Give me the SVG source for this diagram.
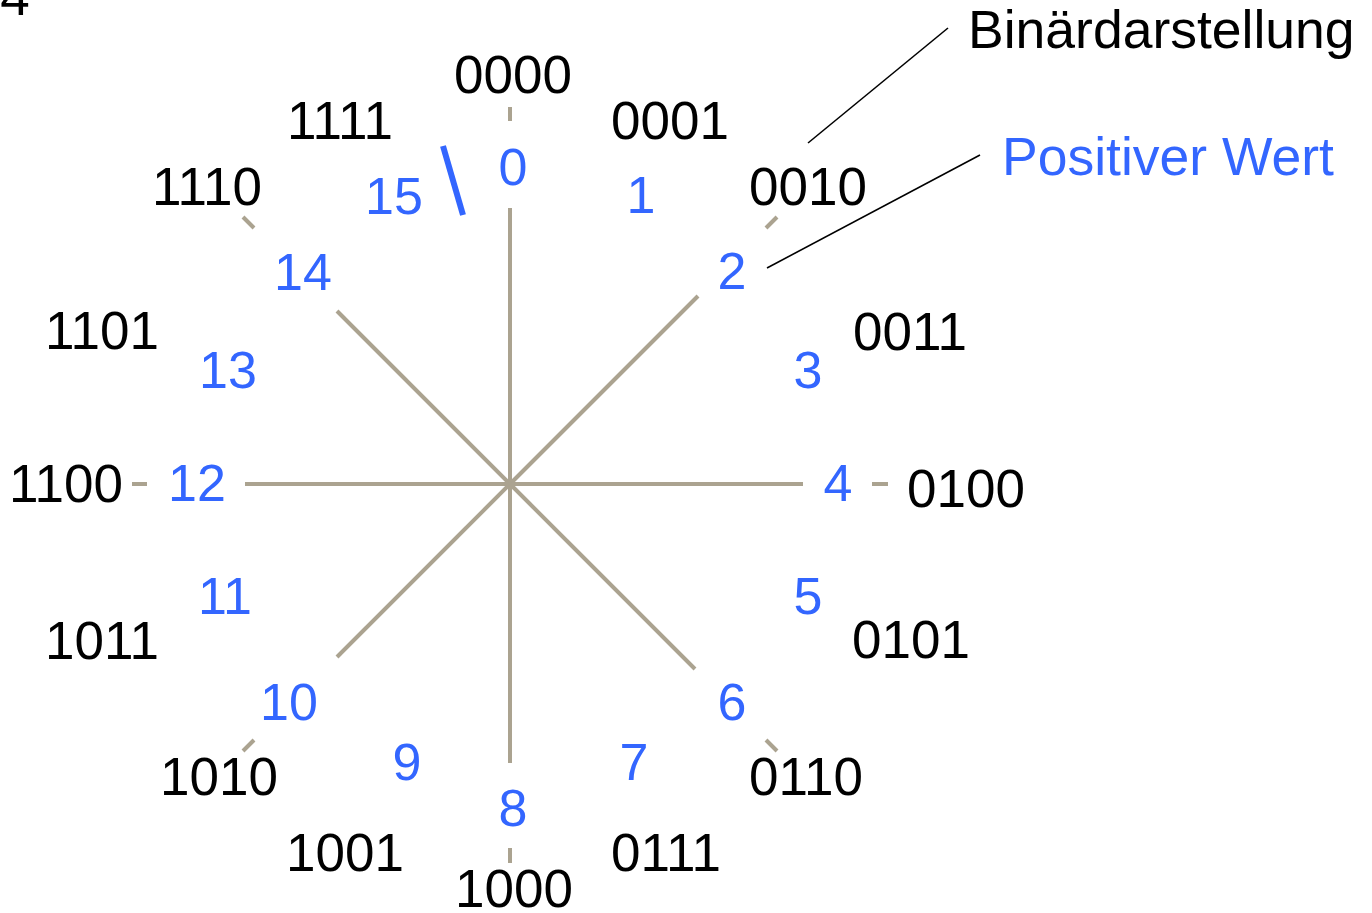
<svg xmlns="http://www.w3.org/2000/svg" width="1372" height="913" viewBox="0 0 1372 913">
<style>
.ax{stroke:#aba390;stroke-width:4;fill:none}
.b{font-family:"Liberation Sans",Arial,sans-serif;font-size:53px;fill:#000;text-anchor:middle}
.v{font-family:"Liberation Sans",Arial,sans-serif;font-size:52px;fill:#3366ff;text-anchor:middle}
.lg{font-size:53.5px;text-anchor:start}
.ld{stroke:#000;stroke-width:1.6;fill:none}
</style>
<rect width="1372" height="913" fill="#fff"/>
<g id="connectors">
<line class="ax" x1="510" y1="484" x2="510" y2="208"/>
<line class="ax" x1="510" y1="484" x2="510" y2="763"/>
<line class="ax" x1="510" y1="484" x2="245" y2="484"/>
<line class="ax" x1="510" y1="484" x2="803" y2="484"/>
<line class="ax" x1="510" y1="484" x2="698" y2="296"/>
<line class="ax" x1="510" y1="484" x2="337" y2="311"/>
<line class="ax" x1="510" y1="484" x2="337" y2="657"/>
<line class="ax" x1="510" y1="484" x2="695" y2="669"/>
<line class="ax" x1="510" y1="107" x2="510" y2="121"/>
<line class="ax" x1="510" y1="848" x2="510" y2="863"/>
<line class="ax" x1="132" y1="484" x2="147" y2="484"/>
<line class="ax" x1="872" y1="484" x2="888" y2="484"/>
<line class="ax" x1="766" y1="228" x2="777" y2="217"/>
<line class="ax" x1="243" y1="217" x2="254" y2="228"/>
<line class="ax" x1="243" y1="751" x2="254" y2="740"/>
<line class="ax" x1="766" y1="740" x2="777" y2="751"/>
<line x1="443" y1="146" x2="463" y2="215" stroke="#3366ff" stroke-width="6"/>
<line class="ld" x1="808" y1="143" x2="948" y2="28"/>
<line class="ld" x1="767" y1="268" x2="980" y2="155"/>
</g>
<g id="corner"><text class="b" x="15" y="15">4</text></g>
<g id="binary">
<text class="b" x="513" y="93">0000</text>
<text class="b" x="670" y="139">0001</text>
<text class="b" x="808" y="205">0010</text>
<text class="b" x="910" y="350">0011</text>
<text class="b" x="966" y="507">0100</text>
<text class="b" x="911" y="658">0101</text>
<text class="b" x="806" y="795">0110</text>
<text class="b" x="666" y="871">0111</text>
<text class="b" x="514" y="907">1000</text>
<text class="b" x="345" y="871">1001</text>
<text class="b" x="219" y="795">1010</text>
<text class="b" x="102" y="659">1011</text>
<text class="b" x="66" y="502">1100</text>
<text class="b" x="102" y="349">1101</text>
<text class="b" x="207" y="205">1110</text>
<text class="b" x="340" y="139">1111</text>
</g>
<g id="values">
<text class="v" x="513" y="185">0</text>
<text class="v" x="641" y="213">1</text>
<text class="v" x="732" y="289">2</text>
<text class="v" x="808" y="388">3</text>
<text class="v" x="838" y="501">4</text>
<text class="v" x="808" y="614">5</text>
<text class="v" x="732" y="720">6</text>
<text class="v" x="634" y="780">7</text>
<text class="v" x="513" y="826">8</text>
<text class="v" x="407" y="780">9</text>
<text class="v" x="289" y="720">10</text>
<text class="v" x="225" y="614">11</text>
<text class="v" x="197" y="501">12</text>
<text class="v" x="228" y="388">13</text>
<text class="v" x="303" y="290">14</text>
<text class="v" x="394" y="214">15</text>
</g>
<g id="legend">
<text class="b lg" x="968" y="48">Binärdarstellung</text>
<text class="v lg" x="1002" y="175">Positiver Wert</text>
</g>
</svg>
